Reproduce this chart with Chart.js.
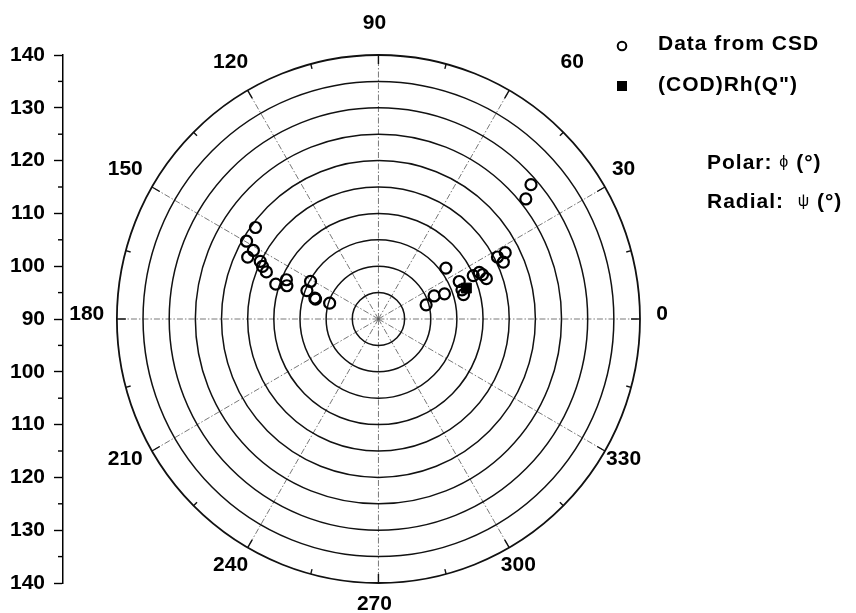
<!DOCTYPE html>
<html>
<head>
<meta charset="utf-8">
<script src="https://cdn.jsdelivr.net/npm/chart.js@4.4.1/dist/chart.umd.min.js"></script>
<style>
  html, body { margin: 0; padding: 0; background: #fff; }
  #wrap { width: 856px; height: 613px; }
</style>
</head>
<body>
<div id="wrap"><canvas id="c" width="856" height="613"></canvas></div>
<script>
// Torsion angles: phi is the polar angle, psi the radial coordinate (both in degrees)
const csdPhi = [41.1, 38.9, 27.4, 27.3, 24.3, 36.8, 24.4, 24.6, 22.9, 20.3, 24.7, 19.1, 15.8, 20.7, 22.3, 16.4,
                143.6, 149.7, 151.5, 154.9, 154.2, 155.8, 157.4, 161.4, 157.1, 160.2, 151.3, 158.5, 162.6, 161.9, 162.2];
const csdPsi = [128.7, 126.2, 117.3, 115.6, 116.2, 106.1, 109.9, 111.2, 111.6, 112.0, 107.0, 106.9, 106.9, 103.5, 101.5, 99.5,
                119.2, 119.2, 117.2, 117.6, 115.1, 114.3, 113.2, 110.7, 109.1, 108.6, 104.8, 104.7, 102.6, 102.8, 99.8];
const codPhi = [19.2];
const codPsi = [107.8];

// Polar grid: spokes every 30 degrees, rings every 5 degrees of psi
const angleTicks = [0, 30, 60, 90, 120, 150, 180, 210, 240, 270, 300, 330];
const radialRings = [95, 100, 105, 110, 115, 120, 125, 130, 135, 140];
const psiOrigin = 90;
const psiMax = 140;
// Left-hand ruler: psi read outwards from the centre in both directions
const rulerValues = [140, 135, 130, 125, 120, 115, 110, 105, 100, 95, 90, 95, 100, 105, 110, 115, 120, 125, 130, 135, 140];

const FONT = '"Liberation Sans", Arial, sans-serif';

function toPoints(phis, psis) {
  return phis.map((p, i) => {
    const r = psis[i] - psiOrigin;
    const a = p * Math.PI / 180;
    return { x: r * Math.cos(a), y: r * Math.sin(a) };
  });
}

const span = psiMax - psiOrigin;
const rulerOffsets = rulerValues.map((v, i) => (i < rulerValues.length / 2 ? 1 : -1) * (v - psiOrigin));

const polarFrame = {
  id: 'polarFrame',
  beforeDatasetsDraw(chart) {
    const ctx = chart.ctx;
    const xs = chart.scales.x, ys = chart.scales.y;
    const cx = xs.getPixelForValue(0), cy = ys.getPixelForValue(0);
    const rxOf = v => xs.getPixelForValue(v - psiOrigin) - cx;
    const ryOf = v => cy - ys.getPixelForValue(v - psiOrigin);
    const RX = rxOf(psiMax), RY = ryOf(psiMax);
    ctx.save();

    // spokes
    ctx.strokeStyle = '#555';
    ctx.lineWidth = 0.8;
    ctx.setLineDash([6, 2, 1.5, 2]);
    angleTicks.forEach(a => {
      const t = a * Math.PI / 180;
      ctx.beginPath();
      ctx.moveTo(cx, cy);
      ctx.lineTo(cx + RX * Math.cos(t), cy - RY * Math.sin(t));
      ctx.stroke();
    });
    ctx.setLineDash([]);

    // rings
    ctx.strokeStyle = '#111';
    radialRings.forEach(v => {
      ctx.lineWidth = v === psiMax ? 1.8 : 1.5;
      ctx.beginPath();
      ctx.ellipse(cx, cy, rxOf(v), ryOf(v), 0, 0, Math.PI * 2);
      ctx.stroke();
    });

    // inward ticks on the outer ring
    ctx.lineWidth = 1.4;
    angleTicks.forEach(a => {
      [[a, 9], [a + 15, 5]].forEach(([deg, len]) => {
        const t = deg * Math.PI / 180, c = Math.cos(t), s = Math.sin(t);
        ctx.beginPath();
        ctx.moveTo(cx + RX * c, cy - RY * s);
        ctx.lineTo(cx + (RX - len) * c, cy - (RY - len) * s);
        ctx.stroke();
      });
    });

    // minor ticks on the ruler
    ctx.strokeStyle = '#000';
    ctx.lineWidth = 1.4;
    const left = chart.chartArea.left;
    rulerOffsets.forEach(v => {
      if (Math.abs(v) % 10 !== 0) {
        const y = ys.getPixelForValue(v);
        ctx.beginPath();
        ctx.moveTo(left - 5, y);
        ctx.lineTo(left, y);
        ctx.stroke();
      }
    });

    // angle labels; the 60 label is nudged to the right
    const nudge = { 60: 54 };
    ctx.fillStyle = '#000';
    ctx.font = 'bold 21px ' + FONT;
    ctx.textAlign = 'center';
    ctx.textBaseline = 'middle';
    angleTicks.forEach(a => {
      const t = a * Math.PI / 180;
      ctx.fillText(String(a), cx - 4 + (nudge[a] || 0) + 1.1 * RX * Math.cos(t), cy - 5 - 1.1 * RY * Math.sin(t));
    });
    ctx.restore();
  },
  afterDraw(chart) {
    const ctx = chart.ctx;
    ctx.save();
    ctx.fillStyle = '#000';
    ctx.strokeStyle = '#000';
    ctx.textBaseline = 'middle';
    ctx.textAlign = 'left';
    ctx.letterSpacing = '1px';

    // legend
    ctx.lineWidth = 2;
    ctx.beginPath();
    ctx.arc(622, 46, 4.3, 0, Math.PI * 2);
    ctx.stroke();
    ctx.fillRect(617, 81, 10, 10);
    ctx.font = 'bold 21px ' + FONT;
    ctx.fillText(chart.data.datasets[1].label, 658, 44);
    ctx.fillText(chart.data.datasets[0].label, 658, 85);

    // axis descriptions
    const line = (parts, x, y) => {
      parts.forEach(([txt, font]) => {
        ctx.font = font;
        ctx.fillText(txt, x, y);
        x += ctx.measureText(txt).width;
      });
    };
    const big = 'bold 21px ' + FONT;
    const greek = '16px ' + FONT;
    line([['Polar: ', big], ['\u03D5', greek], [' (\u00B0)', big]], 707, 163);
    line([['Radial:  ', big], ['\u03C8', greek], [' (\u00B0)', big]], 707, 202);
    ctx.restore();
  }
};

new Chart(document.getElementById('c'), {
  type: 'scatter',
  data: {
    datasets: [
      {
        label: '(COD)Rh(Q")',
        data: toPoints(codPhi, codPsi),
        pointStyle: 'rect',
        pointRadius: 7,
        backgroundColor: '#000',
        borderColor: '#000',
        borderWidth: 1
      },
      {
        label: 'Data from CSD',
        data: toPoints(csdPhi, csdPsi),
        pointStyle: 'circle',
        pointRadius: 5.5,
        backgroundColor: 'rgba(0,0,0,0)',
        borderColor: '#000',
        borderWidth: 2.2
      }
    ]
  },
  options: {
    responsive: false,
    devicePixelRatio: 1,
    animation: false,
    events: [],
    clip: false,
    layout: { padding: { left: 0, right: 216, top: 55, bottom: 30 } },
    plugins: { legend: { display: false }, tooltip: { enabled: false } },
    scales: {
      x: { type: 'linear', min: -60.3, max: span, display: false },
      y: {
        type: 'linear',
        position: 'left',
        min: -span,
        max: span,
        afterBuildTicks: s => { s.ticks = rulerOffsets.map(v => ({ value: v })); },
        afterFit: s => { s.width = 63; },
        ticks: {
          autoSkip: false,
          padding: 9,
          color: '#000',
          font: { family: FONT, size: 21, weight: 'bold' },
          callback: v => (Math.abs(v) % 10 === 0 ? String(psiOrigin + Math.abs(v)) : '')
        },
        grid: {
          drawOnChartArea: false,
          tickLength: 9,
          tickWidth: 1.4,
          tickColor: c => (c.tick && Math.abs(c.tick.value) % 10 === 0 ? '#000' : 'rgba(0,0,0,0)')
        },
        border: { display: true, color: '#000', width: 1.5 }
      }
    }
  },
  plugins: [polarFrame]
});
</script>
</body>
</html>
